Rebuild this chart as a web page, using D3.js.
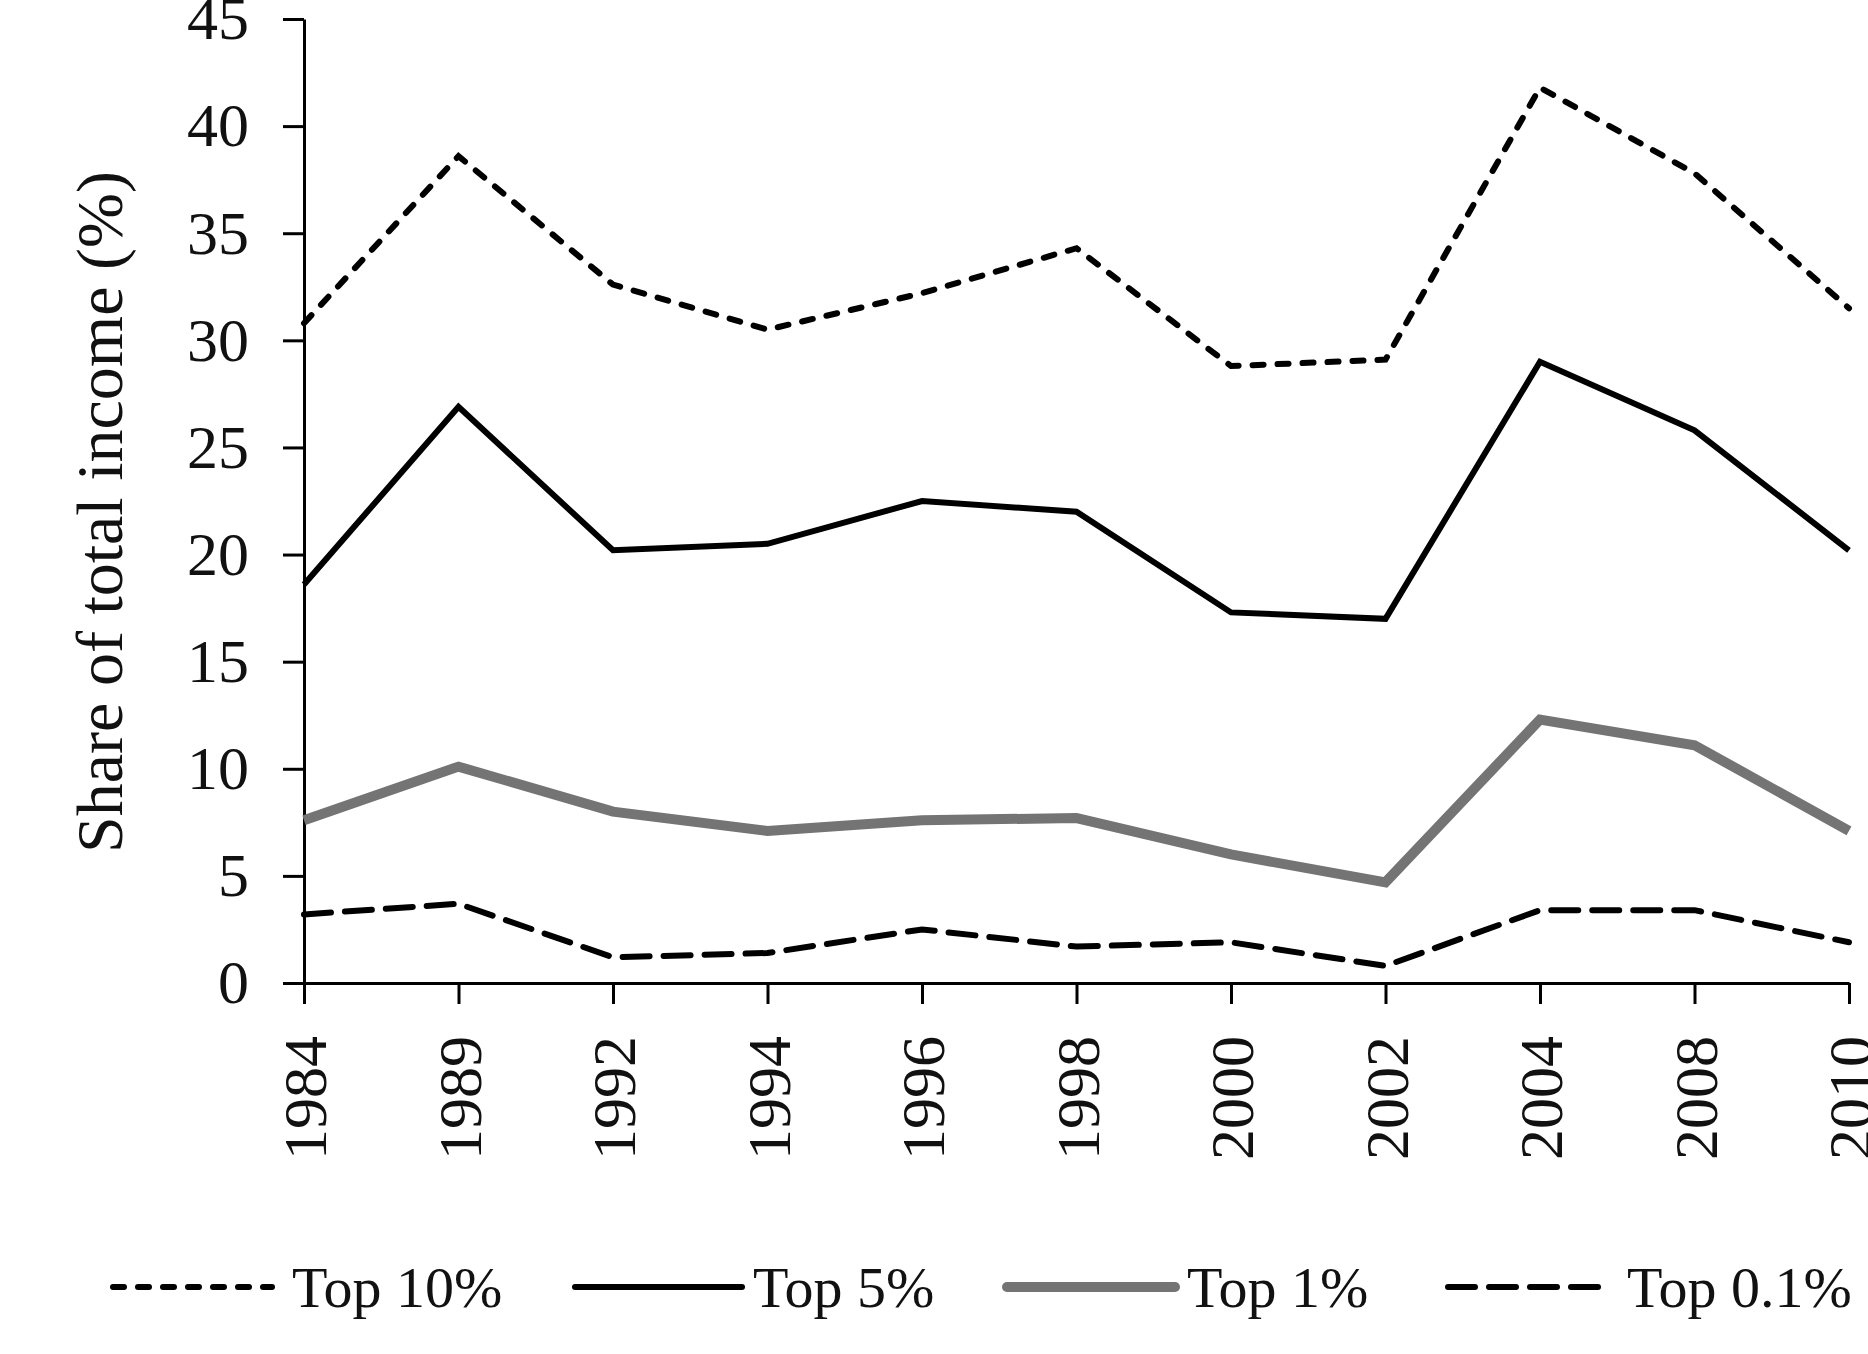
<!DOCTYPE html>
<html>
<head>
<meta charset="utf-8">
<script src="https://cdn.jsdelivr.net/npm/d3@7"></script>
<style>
  html, body { margin: 0; padding: 0; background: #fff; }
  svg text { font-family: "Liberation Serif", "Times New Roman", serif; fill: #111; }
</style>
</head>
<body>
<svg id="chart" width="1868" height="1354"></svg>
<script>
const years = ["1984","1989","1992","1994","1996","1998","2000","2002","2004","2008","2010"];
const top10  = [30.8, 38.6, 32.6, 30.5, 32.2, 34.3, 28.8, 29.1, 41.8, 37.8, 31.5];
const top5   = [18.6, 26.9, 20.2, 20.5, 22.5, 22.0, 17.3, 17.0, 29.0, 25.8, 20.2];
const top1   = [7.6, 10.1, 8.0, 7.1, 7.6, 7.7, 6.0, 4.7, 12.3, 11.1, 7.1];
const top01  = [3.2, 3.7, 1.2, 1.4, 2.5, 1.7, 1.9, 0.8, 3.4, 3.4, 1.9];
const yTicks = [0, 5, 10, 15, 20, 25, 30, 35, 40, 45];
const seriesNames = ["Top 10%", "Top 5%", "Top 1%", "Top 0.1%"];
const yTitle = "Share of total income (%)";

const styles = [
  {color: "#000", width: 6, dash: "11,14"},
  {color: "#000", width: 6, dash: null},
  {color: "#747474", width: 10, dash: null},
  {color: "#000", width: 6, dash: "27,14"}
];
const seriesData = [top10, top5, top1, top01];

const svg = d3.select("#chart");
const x = d3.scalePoint().domain(years).range([304, 1849]);
const y = d3.scaleLinear().domain([0, 45]).range([983, 19]);

// Y axis
const yAxis = svg.append("g").attr("transform", "translate(304,0)")
  .call(d3.axisLeft(y).tickValues(yTicks).tickSize(21).tickSizeOuter(0).tickPadding(34));
yAxis.select(".domain").attr("stroke", "#000").attr("stroke-width", 3);
yAxis.selectAll(".tick line").attr("stroke", "#000").attr("stroke-width", 3);
yAxis.selectAll(".tick text").attr("font-size", 62).attr("font-family", "Liberation Serif").attr("fill", "#111");

// X axis
const xAxis = svg.append("g").attr("transform", "translate(0,983)")
  .call(d3.axisBottom(x).tickSize(21).tickSizeOuter(0).tickPadding(0));
xAxis.select(".domain").attr("stroke", "#000").attr("stroke-width", 3);
xAxis.selectAll(".tick line").attr("stroke", "#000").attr("stroke-width", 3);
xAxis.selectAll(".tick text")
  .attr("font-size", 62).attr("font-family", "Liberation Serif").attr("fill", "#111")
  .attr("transform", "rotate(-90)")
  .attr("text-anchor", "end")
  .attr("x", -53).attr("y", 0).attr("dy", "0.35em");

// Y title
svg.append("text")
  .attr("transform", "translate(122,512) rotate(-90)")
  .attr("text-anchor", "middle")
  .attr("font-size", 66)
  .text(yTitle);

// Lines
const line = d3.line().x((d, i) => x(years[i])).y(d => y(d));
seriesData.forEach((data, k) => {
  const s = styles[k];
  svg.append("path")
    .datum(data)
    .attr("d", line)
    .attr("fill", "none")
    .attr("stroke", s.color)
    .attr("stroke-width", s.width)
    .attr("stroke-linecap", s.dash ? "round" : "butt")
    .attr("stroke-linejoin", "miter")
    .attr("stroke-dasharray", s.dash);
});

// Legend
const legendItems = [
  {x1: 113, x2: 272, tx: 292},
  {x1: 575, x2: 742, tx: 753},
  {x1: 1007, x2: 1175, tx: 1187},
  {x1: 1448, x2: 1605, tx: 1627}
];
const lg = svg.append("g");
legendItems.forEach((it, k) => {
  const s = styles[k];
  lg.append("line")
    .attr("x1", it.x1).attr("x2", it.x2).attr("y1", 1287).attr("y2", 1287)
    .attr("stroke", s.color).attr("stroke-width", s.width)
    .attr("stroke-linecap", "round")
    .attr("stroke-dasharray", s.dash);
  lg.append("text")
    .attr("x", it.tx).attr("y", 1287).attr("dy", "0.35em")
    .attr("font-size", 58)
    .text(seriesNames[k]);
});
</script>
</body>
</html>
